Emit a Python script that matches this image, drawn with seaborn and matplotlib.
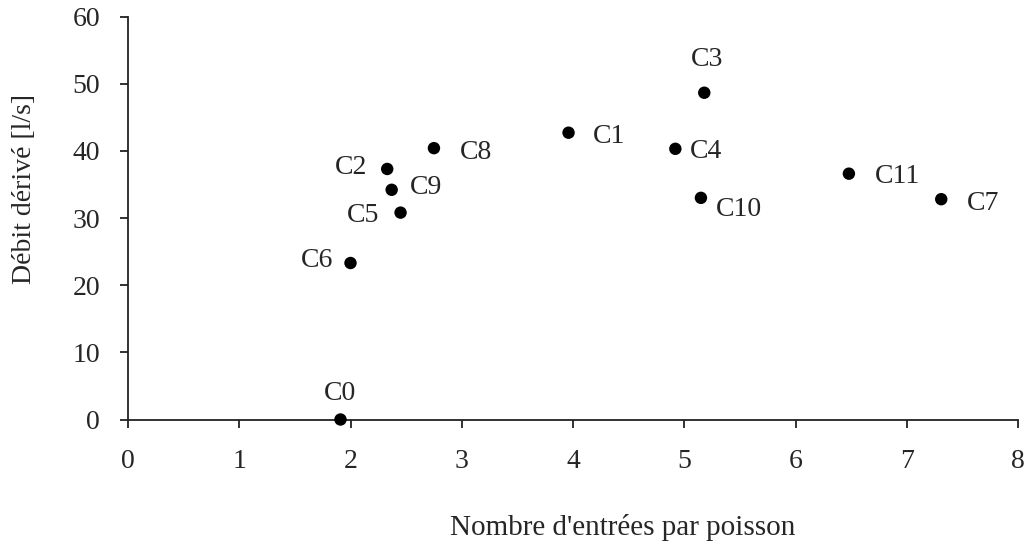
import pandas as pd
import matplotlib
matplotlib.use("Agg")
import matplotlib.pyplot as plt
import seaborn as sns

# values
labels = ["C0", "C1", "C2", "C3", "C4", "C5", "C6", "C7", "C8", "C9", "C10", "C11"]
entries = [1.91, 3.96, 2.33, 5.18, 4.92, 2.45, 2.00, 7.31, 2.75, 2.37, 5.15, 6.48]
flow = [0.0, 42.7, 37.3, 48.65, 40.3, 30.8, 23.3, 32.8, 40.4, 34.2, 33.0, 36.6]

# where each label sits relative to its dot (pixels, ha)
label_pos = {
    "C0": (0, 26, "center"), "C1": (24, -4, "left"), "C2": (-20, 1, "right"),
    "C3": (3, 33, "center"), "C4": (15, -3, "left"), "C5": (-21, -3, "right"),
    "C6": (-17, 3, "right"), "C7": (26, -4, "left"), "C8": (26, -4, "left"),
    "C9": (18, 2, "left"), "C10": (15, -12, "left"), "C11": (26, -3, "left"),
}

data = pd.DataFrame({"label": labels, "x": entries, "y": flow})

sns.set_style("ticks")
plt.rcParams["font.family"] = ["Liberation Serif", "DejaVu Serif"]
plt.rcParams["font.size"] = 20

fig = plt.figure(figsize=(10.27, 5.44), dpi=100)
ax = fig.add_axes([128 / 1027, 1 - 419.5 / 544, 890 / 1027, 403 / 544])

sns.scatterplot(data=data, x="x", y="y", color="black", s=80,
                edgecolor="none", ax=ax, zorder=3, clip_on=False)

for lab, xv, yv in zip(labels, entries, flow):
    dx, dy, ha = label_pos[lab]
    ax.annotate(lab, (xv, yv), xytext=(dx, dy), textcoords="offset pixels",
                ha=ha, va="center", fontsize=20)

ax.set_xlim(0, 8)
ax.set_ylim(0, 60)
ax.set_xticks(range(0, 9))
ax.set_yticks(range(0, 61, 10))
sns.despine(ax=ax)
for side in ["left", "bottom"]:
    ax.spines[side].set_color("#222222")
    ax.spines[side].set_linewidth(1.3)
ax.tick_params(axis="both", length=6, width=1.3, color="#222222", labelsize=20)
ax.tick_params(axis="x", pad=15)
ax.tick_params(axis="y", pad=14)

ax.set_xlabel("Nombre d'entrées par poisson", fontsize=21)
ax.xaxis.set_label_coords(0.556, -0.235)
ax.set_ylabel("Débit dérivé [l/s]", fontsize=20)
ax.yaxis.set_label_coords(-0.102, 0.572)

plt.savefig("out.png", dpi=100)
